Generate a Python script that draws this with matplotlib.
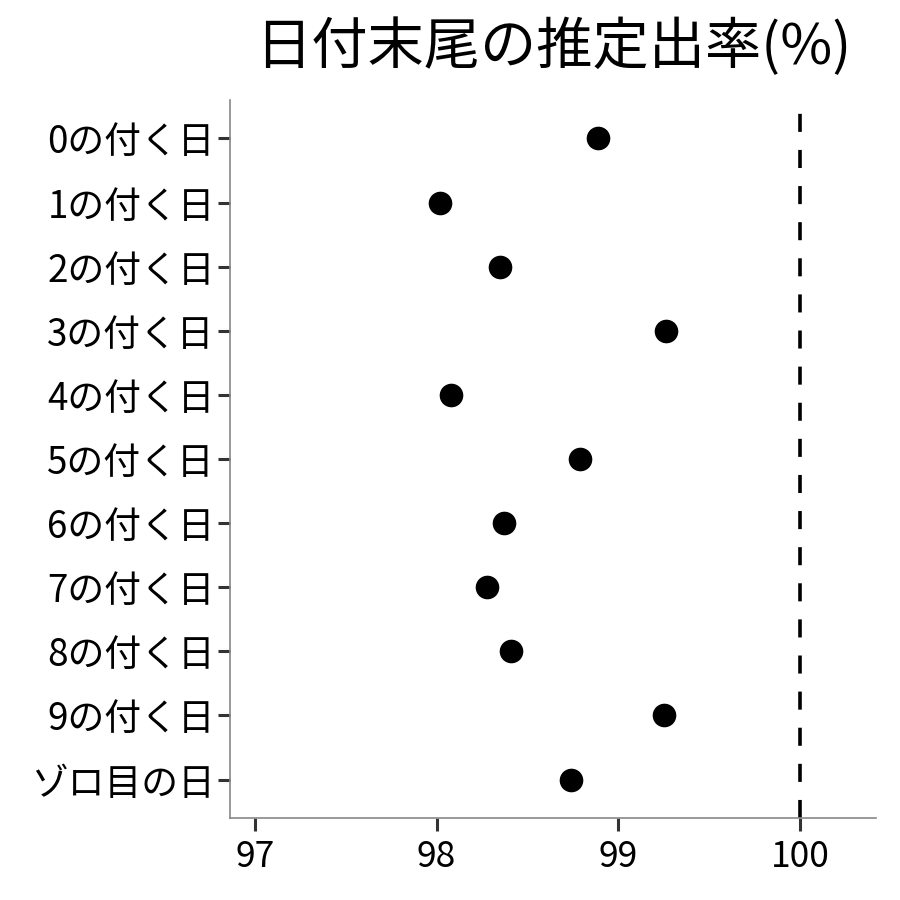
import matplotlib as mpl
mpl.use('Agg')
import matplotlib.pyplot as plt

plt.rcParams['font.family'] = ['Noto Sans CJK JP', 'DejaVu Sans']

labels = ['0の付く日', '1の付く日', '2の付く日', '3の付く日', '4の付く日',
          '5の付く日', '6の付く日', '7の付く日', '8の付く日', '9の付く日', 'ゾロ目の日']
rates = [98.89, 98.02, 98.35, 99.26, 98.08, 98.79, 98.37, 98.28, 98.41, 99.25, 98.74]
x_ticks = [97, 98, 99, 100]
ref_line = 100

fig = plt.figure(figsize=(9, 9), dpi=100)
ax = fig.add_axes([230/900, 1-818/900, (876-230)/900, (818-100)/900])

ypos = list(range(len(labels)))
ax.plot(rates, ypos, 'o', color='black', markersize=16, linestyle='none', zorder=3)
ax.axvline(ref_line, color='black', lw=2.6, dashes=(5, 5), zorder=2)

ax.set_yticks(ypos)
ax.set_yticklabels(labels, fontsize=26.5)
ax.set_xticks(x_ticks)
ax.set_xticklabels([str(t) for t in x_ticks], fontsize=25.5)
ax.set_xlim(96.863, 100.418)
ax.set_ylim(len(labels) - 0.4, -0.6)

ax.spines['top'].set_visible(False)
ax.spines['right'].set_visible(False)
for s in ['left', 'bottom']:
	ax.spines[s].set_color('#888888')
	ax.spines[s].set_linewidth(1.2)
ax.tick_params(axis='both', length=9, width=2.2, color='#333333', labelcolor='black')
ax.tick_params(axis='y', pad=2)
ax.tick_params(axis='x', pad=6)

ax.set_title('日付末尾の推定出率(%)', fontsize=40.5, pad=26)

fig.savefig('out.png', dpi=100)
